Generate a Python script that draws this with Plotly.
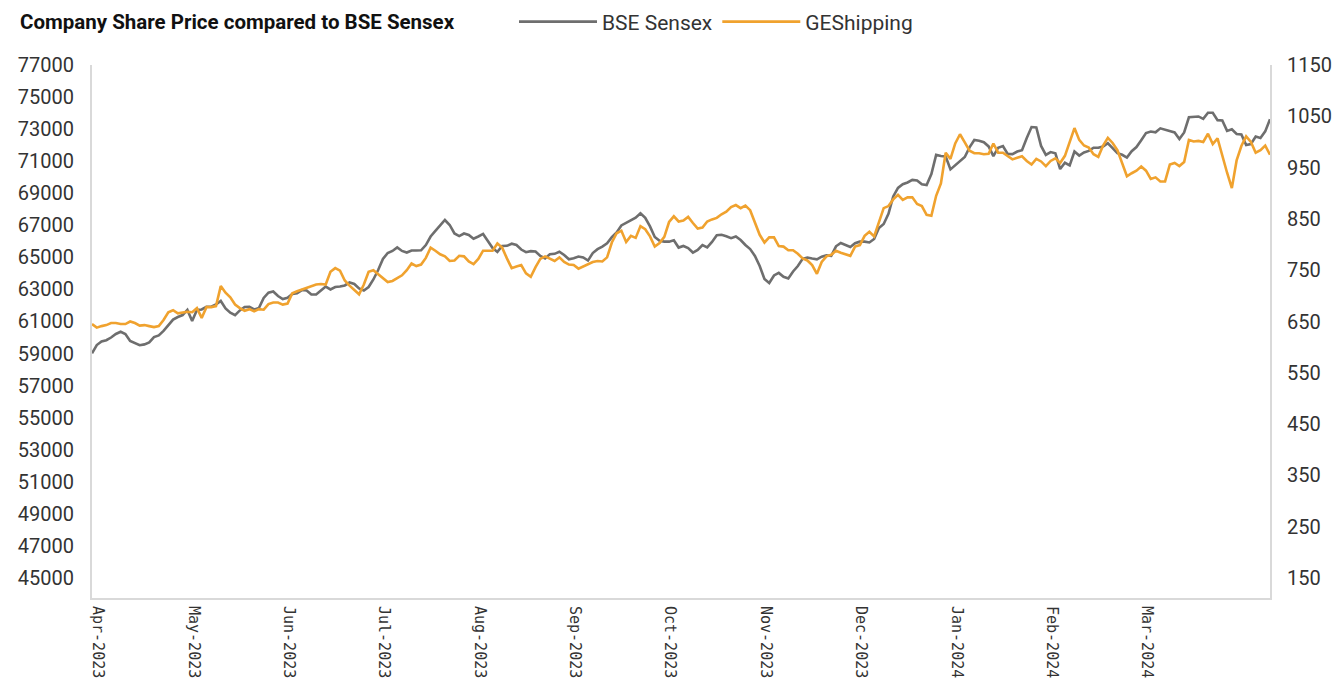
import plotly.graph_objects as go

# BSE Sensex (left axis), one value per trading day
sensex = [
    59020, 59530, 59750, 59830, 60000, 60220, 60360, 60220, 59780, 59630,
    59520, 59570, 59690, 60030, 60130, 60410, 60780, 61120, 61280, 61400,
    61720, 61030, 61720, 61750, 61920, 61920, 62060, 62280, 61820, 61550,
    61400, 61690, 61900, 61920, 61750, 61840, 62470, 62800, 62870, 62590,
    62400, 62480, 62720, 62760, 62960, 62930, 62680, 62680, 62930, 63180,
    63000, 63150, 63180, 63250, 63430, 63340, 63060, 62930, 63150, 63620,
    64210, 64900, 65270, 65400, 65620, 65400, 65300, 65430, 65430, 65440,
    65770, 66300, 66650, 66990, 67330, 67020, 66490, 66330, 66490, 66400,
    66160, 66300, 66460, 66020, 65580, 65340, 65710, 65720, 65850, 65770,
    65490, 65320, 65390, 65370, 65090, 64930, 65190, 65220, 65350, 65150,
    64880, 64950, 65050, 64990, 64800, 65270, 65510, 65670, 65870, 66260,
    66550, 66990, 67140, 67310, 67480, 67750, 67470, 66930, 66270, 66030,
    65980, 65980, 66070, 65610, 65710, 65580, 65300, 65460, 65770, 65620,
    65960, 66380, 66410, 66320, 66200, 66300, 66080, 65770, 65520, 65090,
    64460, 63650, 63400, 63870, 64030, 63790, 63680, 64120, 64460, 64910,
    64990, 64930, 64880, 65040, 65120, 65090, 65690, 65900, 65750, 65650,
    65880, 65980, 65980, 65930, 66150, 66830, 67080, 67710, 68800, 69330,
    69560, 69670, 69830, 69800, 69560, 69510, 70200, 71390, 71320, 71290,
    70490, 70760, 71020, 71260, 71860, 72320, 72280, 72180, 71920, 71320,
    71840, 71940, 71450, 71440, 71600, 71690, 72450, 73130, 73100, 71950,
    71390, 71570, 71490, 70510, 70900, 70740, 71600, 71350, 71540, 71640,
    71840, 71840, 71920, 72120, 71820, 71500, 71400, 71220, 71620, 71880,
    72310, 72750, 72850, 72800, 73050, 72970, 72860, 72790, 72380, 72790,
    73740, 73780, 73790, 73640, 74020, 74020, 73560, 73540, 72890, 72990,
    72700, 72670, 72010, 72070, 72540, 72450, 72860, 73610,
]

# GE Shipping share price (right axis), same trading days
geshipping = [
    645, 638, 641, 643, 647, 647, 645, 645, 650, 647,
    642, 643, 641, 639, 641, 653, 668, 672, 666, 668,
    669, 668, 676, 657, 678, 678, 680, 719, 706, 697,
    683, 676, 671, 674, 670, 674, 673, 684, 687, 687,
    683, 685, 705, 709, 712, 715, 719, 722, 723, 722,
    747, 754, 749, 730, 720, 711, 703, 722, 747, 750,
    742, 734, 727, 729, 735, 740, 750, 763, 758, 761,
    774, 794, 788, 781, 777, 768, 769, 778, 777, 767,
    762, 772, 788, 788, 788, 802, 794, 773, 754, 757,
    760, 744, 737, 756, 772, 777, 772, 768, 775, 766,
    761, 760, 753, 757, 762, 766, 768, 767, 775, 804,
    822, 827, 805, 817, 813, 836, 830, 816, 796, 803,
    815, 844, 855, 845, 847, 854, 842, 831, 833, 845,
    849, 852, 859, 864, 873, 877, 871, 876, 867, 841,
    819, 804, 814, 814, 797, 796, 789, 789, 782, 773,
    769, 760, 743, 766, 777, 780, 788, 784, 781, 778,
    796, 799, 817, 825, 816, 844, 871, 875, 888, 897,
    887, 892, 892, 879, 875, 858, 856, 895, 919, 979,
    967, 997, 1015, 999, 983, 978, 978, 976, 977, 997,
    979, 979, 973, 966, 969, 972, 963, 956, 967, 962,
    953, 963, 968, 959, 973, 1000, 1027, 1004, 993, 989,
    976, 971, 993, 1008, 998, 984, 957, 933, 939, 944,
    952, 944, 928, 931, 923, 923, 956, 959, 953, 961,
    1004, 1001, 1002, 1000, 1016, 996, 1007, 971, 940, 910,
    964, 992, 1011, 1000, 979, 984, 993, 975,
]

month_labels = [
    "Apr-2023", "May-2023", "Jun-2023", "Jul-2023", "Aug-2023", "Sep-2023",
    "Oct-2023", "Nov-2023", "Dec-2023", "Jan-2024", "Feb-2024", "Mar-2024",
]
label_every = 20  # one axis label every 20 trading days

left_ticks = list(range(45000, 77001, 2000))
right_ticks = list(range(150, 1151, 100))

n = len(sensex)
days = list(range(n))
tickvals = [i * label_every for i in range(len(month_labels))]

GRAY = "#6e6e6e"
ORANGE = "#f0a22e"
AXIS = "#d9d9d9"
TXT = "#333333"

fig = go.Figure()
fig.add_trace(go.Scatter(
    x=days, y=sensex, name="BSE Sensex", mode="lines",
    line=dict(color=GRAY, width=2.6), yaxis="y",
))
fig.add_trace(go.Scatter(
    x=days, y=geshipping, name="GEShipping", mode="lines",
    line=dict(color=ORANGE, width=2.6), yaxis="y2",
))

fig.update_layout(
    width=1332, height=680,
    margin=dict(l=92, r=62, t=65, b=82, autoexpand=False),
    paper_bgcolor="white", plot_bgcolor="white",
    showlegend=True,
    title=dict(
        text="<b>Company Share Price compared to BSE Sensex</b>",
        xref="container", x=20 / 1332, xanchor="left",
        yref="container", y=1 - 22 / 680, yanchor="middle",
        font=dict(family="Roboto", size=20.5, color="#111111"),
    ),
    legend=dict(
        orientation="h", xref="container", x=514 / 1332, xanchor="left",
        yref="container", y=1 - 22 / 680, yanchor="middle",
        font=dict(family="Roboto", size=21, color=TXT),
        itemwidth=78, bgcolor="rgba(0,0,0,0)", borderwidth=0,
    ),
    xaxis=dict(
        range=[0, n - 1], tickmode="array", tickvals=tickvals, ticktext=month_labels,
        tickangle=90, showgrid=False, zeroline=False, showline=True,
        linecolor=AXIS, linewidth=2, ticks="", automargin=False,
        tickfont=dict(family="DejaVu Sans Mono", size=15, color=TXT),
        ticklabelshift=6, ticklabelstandoff=3,
    ),
    yaxis=dict(
        range=[43750, 77000], tickmode="array", tickvals=left_ticks,
        showgrid=False, zeroline=False, showline=True, linecolor=AXIS, linewidth=2,
        ticks="", tickformat="d", automargin=False,
        tickfont=dict(family="Roboto", size=20, color=TXT),
        ticklabelstandoff=12,
    ),
    yaxis2=dict(
        range=[111, 1150], overlaying="y", side="right", tickmode="array",
        tickvals=right_ticks, showgrid=False, zeroline=False, showline=True,
        linecolor=AXIS, linewidth=2, ticks="", tickformat="d", automargin=False,
        tickfont=dict(family="Roboto", size=20, color=TXT),
        ticklabelstandoff=11,
    ),
    hovermode=False,
)

fig.write_html(
    "out.html",
    config={"displayModeBar": False},
    post_script="document.body.style.margin='0';",
)
